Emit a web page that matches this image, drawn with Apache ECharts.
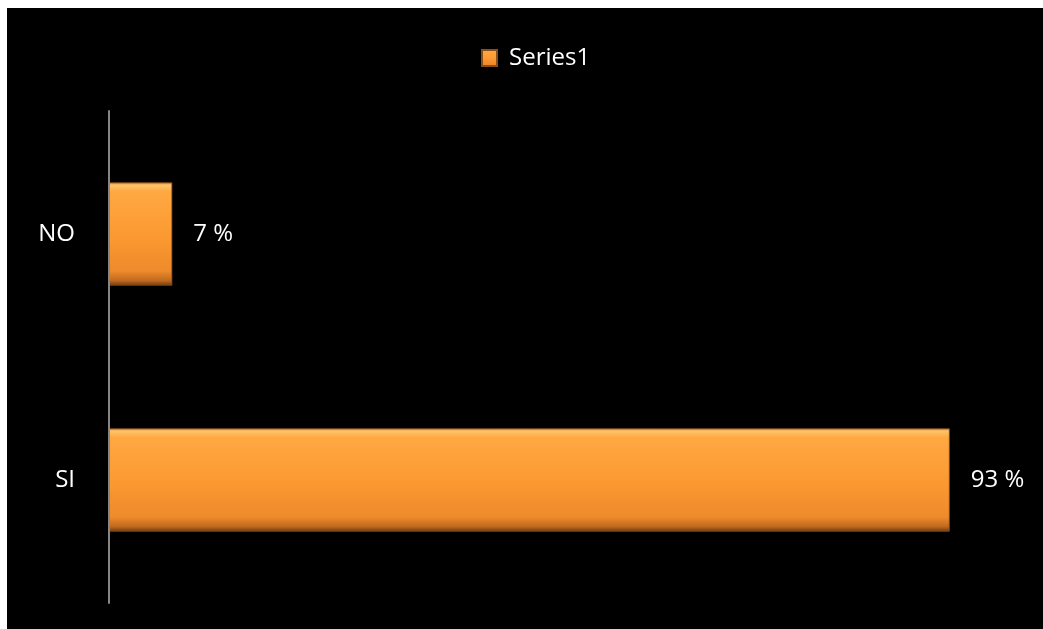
<!DOCTYPE html>
<html>
<head>
<meta charset="utf-8">
<script src="https://cdn.jsdelivr.net/npm/echarts@6/dist/echarts.min.js"></script>
<style>
  html, body { margin: 0; padding: 0; background: #000000; width: 100%; height: 100%; overflow: hidden; }
  #chart { position: absolute; left: 7px; top: 8px; width: 1036px; height: 621px; background: #000000; }
  #topstrip { position: absolute; left: 0; top: 0; width: 100%; height: 8px; background: #ffffff; }
  #leftstrip { position: absolute; left: 0; top: 0; width: 7px; height: 100%; background: #ffffff; }
</style>
</head>
<body>
<div id="topstrip"></div>
<div id="leftstrip"></div>
<div id="chart"></div>
<script>
const categories = ['NO', 'SI'];
const seriesName = 'Series1';
const values = [7, 93];

const chart = echarts.init(document.getElementById('chart'));
const barGradient = new echarts.graphic.LinearGradient(0, 0, 0, 1, [
  { offset: 0, color: '#B8742A' },
  { offset: 0.025, color: '#FFC46A' },
  { offset: 0.09, color: '#FFA842' },
  { offset: 0.5, color: '#FC9A32' },
  { offset: 0.86, color: '#EE8A2B' },
  { offset: 0.95, color: '#C06A20' },
  { offset: 1, color: '#6E3C12' }
]);
const font = '"Open Sans", Lato, sans-serif';
chart.setOption({
  backgroundColor: '#000000',
  animation: false,
  legend: {
    left: 469,
    top: 33,
    itemWidth: 15,
    itemHeight: 16,
    icon: 'rect',
    data: [seriesName],
    textStyle: { color: '#ffffff', fontSize: 24, fontFamily: font, padding: [0, 0, 0, 7] }
  },
  grid: { left: 102, top: 103, width: 904, height: 492, containLabel: false },
  xAxis: {
    type: 'value', min: 0, max: 100, show: false,
    splitLine: { show: false }
  },
  yAxis: {
    type: 'category',
    data: categories,
    inverse: true,
    axisLine: { show: true, lineStyle: { color: '#868686', width: 2 } },
    axisTick: { show: false },
    axisLabel: { color: '#ffffff', fontSize: 24, fontFamily: font, margin: 34 },
    z: 5
  },
  series: [{
    name: seriesName,
    type: 'bar',
    data: values,
    barWidth: '42%',
    itemStyle: { color: barGradient, borderColor: '#8A4E18', borderWidth: 0.8 },
    label: {
      show: true,
      position: 'right',
      distance: 21,
      formatter: '{c} %',
      color: '#ffffff',
      fontSize: 24,
      fontFamily: font
    },
    z: 2
  }]
});
</script>
</body>
</html>
